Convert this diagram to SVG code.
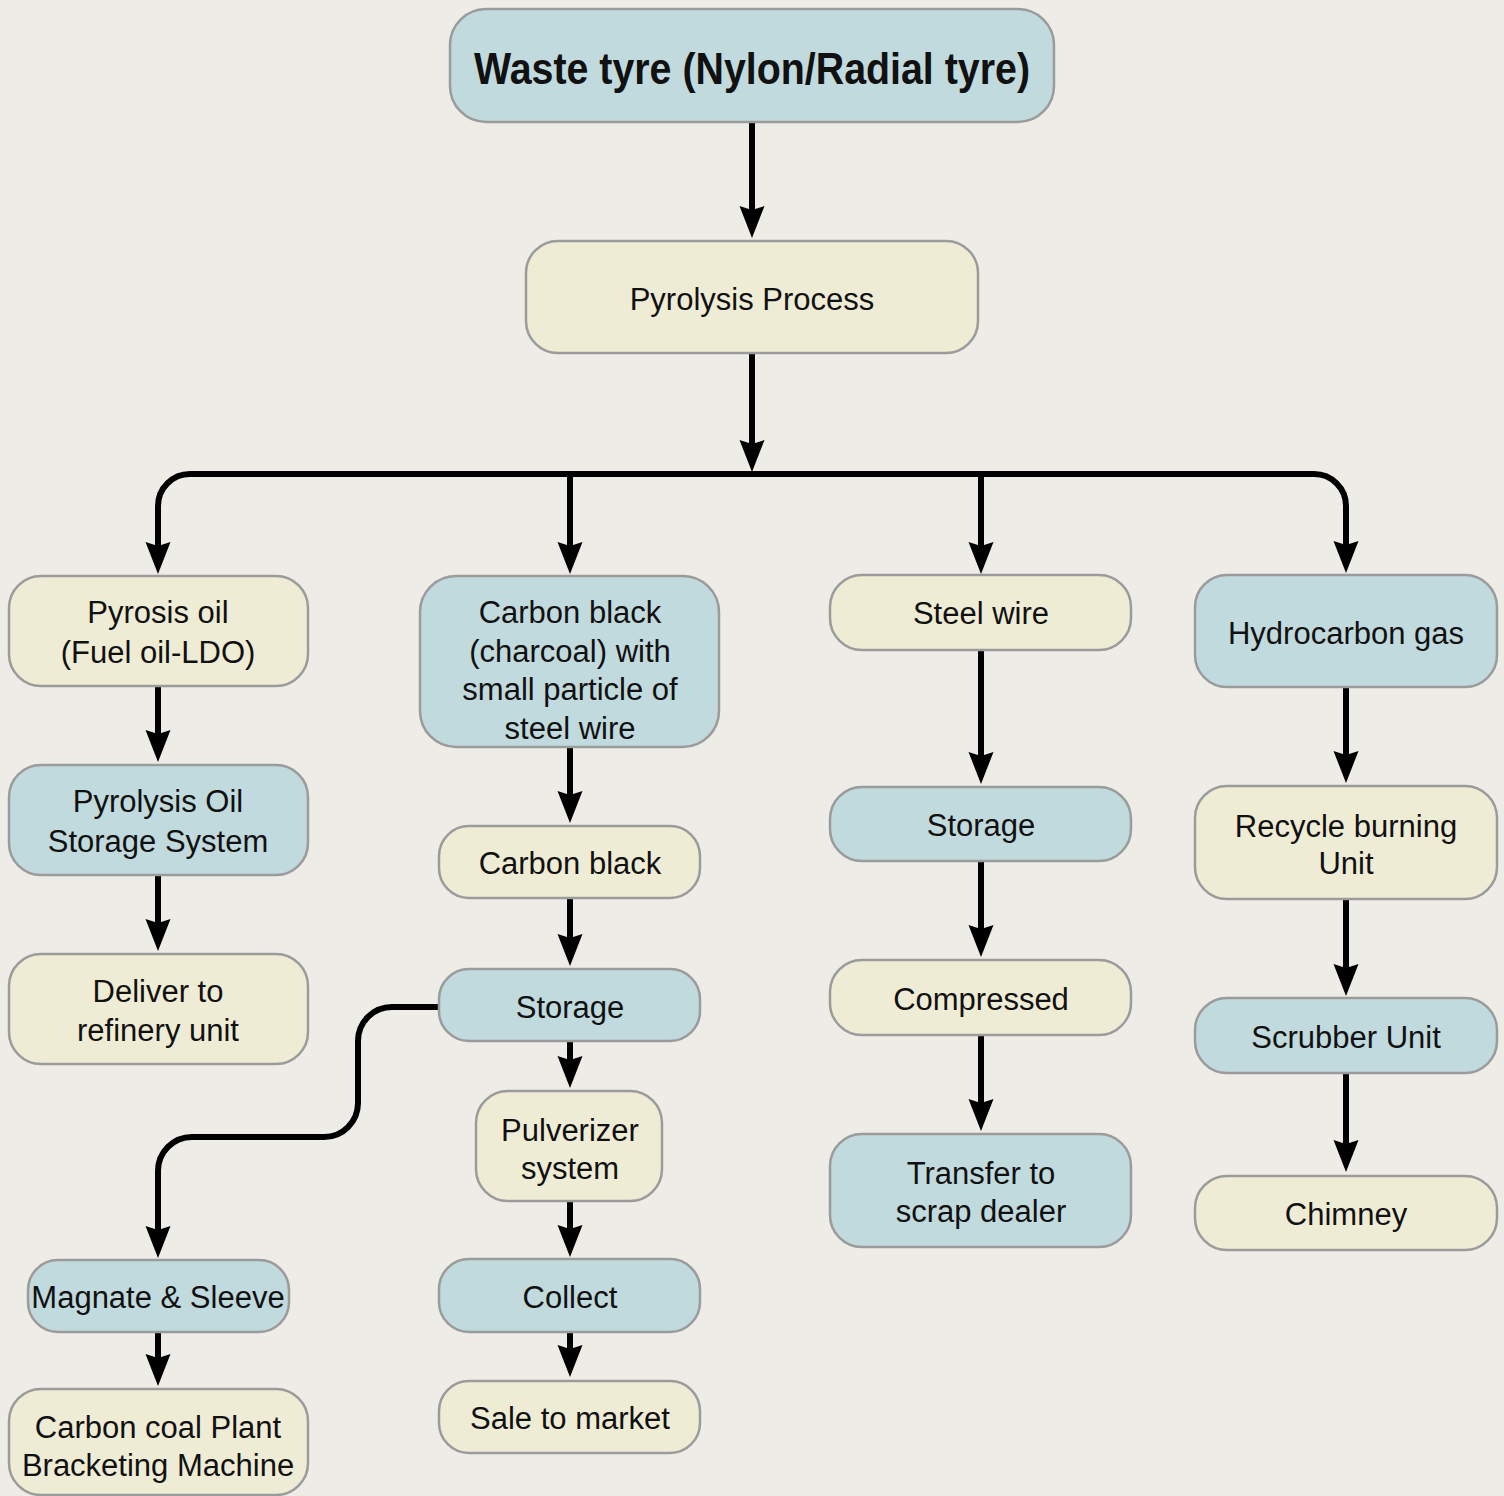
<svg xmlns="http://www.w3.org/2000/svg" width="1504" height="1496" viewBox="0 0 1504 1496">
<style>
.bg{fill:#eeece7}
.b{fill:#c1dadd;stroke:#9b9b9b;stroke-width:2.5}
.c{fill:#efecd6;stroke:#9b9b9b;stroke-width:2.5}
text{font-family:"Liberation Sans",Arial,sans-serif;font-size:31px;fill:#111;text-anchor:middle}
.t{font-size:44px;font-weight:bold}
.e{fill:none;stroke:#000;stroke-width:6;marker-end:url(#ah)}
</style>
<defs>
<marker id="ah" markerUnits="userSpaceOnUse" markerWidth="40" markerHeight="40" viewBox="-15 -15 40 30" refX="0" refY="0" orient="auto" overflow="visible">
<path d="M18,0 L-14,-12.5 L-10,0 L-14,12.5 Z" fill="#000"/>
</marker>
</defs>
<rect class="bg" x="0" y="0" width="1504" height="1496"/>
<g id="connectors">
<path class="e" d="M752,122 V220"/>
<path class="e" d="M752,353 V454"/>
<path class="e" d="M752,474 H190 A32,32 0 0 0 158,506 V556"/>
<path class="e" d="M752,474 H1314 A32,32 0 0 1 1346,506 V555"/>
<path class="e" d="M570,474 V556"/>
<path class="e" d="M981,474 V556"/>
<path class="e" d="M158,686 V744"/>
<path class="e" d="M158,875 V933"/>
<path class="e" d="M570,747 V805"/>
<path class="e" d="M570,898 V948"/>
<path class="e" d="M570,1041 V1070"/>
<path class="e" d="M570,1201 V1239"/>
<path class="e" d="M570,1332 V1359"/>
<path class="e" d="M439,1007 H392 A34,34 0 0 0 358,1041 V1103 A34,34 0 0 1 324,1137 H192 A34,34 0 0 0 158,1171 V1240"/>
<path class="e" d="M158,1332 V1368"/>
<path class="e" d="M981,650 V766"/>
<path class="e" d="M981,861 V939"/>
<path class="e" d="M981,1035 V1113"/>
<path class="e" d="M1346,687 V765"/>
<path class="e" d="M1346,899 V978"/>
<path class="e" d="M1346,1073 V1154"/>
</g>
<g id="waste-tyre"><rect class="b" x="450" y="9" width="604" height="113" rx="36"/><text class="t" x="752" y="84" textLength="556" lengthAdjust="spacingAndGlyphs">Waste tyre (Nylon/Radial tyre)</text></g>
<g id="pyrolysis-process"><rect class="c" x="526" y="241" width="452" height="112" rx="32"/><text x="752" y="310">Pyrolysis Process</text></g>
<g id="pyrosis-oil"><rect class="c" x="9" y="576" width="299" height="110" rx="32"/><text x="158" y="623">Pyrosis oil</text><text x="158" y="663">(Fuel oil-LDO)</text></g>
<g id="oil-storage"><rect class="b" x="9" y="765" width="299" height="110" rx="32"/><text x="158" y="812">Pyrolysis Oil</text><text x="158" y="852">Storage System</text></g>
<g id="deliver-refinery"><rect class="c" x="9" y="954" width="299" height="110" rx="32"/><text x="158" y="1002">Deliver to</text><text x="158" y="1041">refinery unit</text></g>
<g id="carbon-black-charcoal"><rect class="b" x="420" y="576" width="299" height="171" rx="36"/><text x="570" y="623">Carbon black</text><text x="570" y="662">(charcoal) with</text><text x="570" y="700">small particle of</text><text x="570" y="739">steel wire</text></g>
<g id="carbon-black"><rect class="c" x="439" y="826" width="261" height="72" rx="30"/><text x="570" y="874">Carbon black</text></g>
<g id="carbon-storage"><rect class="b" x="439" y="969" width="261" height="72" rx="30"/><text x="570" y="1018">Storage</text></g>
<g id="pulverizer"><rect class="c" x="476" y="1091" width="186" height="110" rx="32"/><text x="570" y="1141">Pulverizer</text><text x="570" y="1179">system</text></g>
<g id="collect"><rect class="b" x="439" y="1259" width="261" height="73" rx="30"/><text x="570" y="1308">Collect</text></g>
<g id="sale-market"><rect class="c" x="439" y="1381" width="261" height="72" rx="30"/><text x="570" y="1429">Sale to market</text></g>
<g id="magnate-sleeve"><rect class="b" x="28" y="1260" width="261" height="72" rx="30"/><text x="158" y="1308">Magnate &amp; Sleeve</text></g>
<g id="carbon-coal-plant"><rect class="c" x="9" y="1389" width="299" height="106" rx="32"/><text x="158" y="1438">Carbon coal Plant</text><text x="158" y="1476">Bracketing Machine</text></g>
<g id="steel-wire"><rect class="c" x="830" y="575" width="301" height="75" rx="32"/><text x="981" y="624">Steel wire</text></g>
<g id="steel-storage"><rect class="b" x="830" y="787" width="301" height="74" rx="32"/><text x="981" y="836">Storage</text></g>
<g id="compressed"><rect class="c" x="830" y="960" width="301" height="75" rx="32"/><text x="981" y="1010">Compressed</text></g>
<g id="scrap-dealer"><rect class="b" x="830" y="1134" width="301" height="113" rx="32"/><text x="981" y="1184">Transfer to</text><text x="981" y="1222">scrap dealer</text></g>
<g id="hydrocarbon-gas"><rect class="b" x="1195" y="575" width="302" height="112" rx="32"/><text x="1346" y="644">Hydrocarbon gas</text></g>
<g id="recycle-burning"><rect class="c" x="1195" y="786" width="302" height="113" rx="32"/><text x="1346" y="837">Recycle burning</text><text x="1346" y="874">Unit</text></g>
<g id="scrubber"><rect class="b" x="1195" y="998" width="302" height="75" rx="32"/><text x="1346" y="1048">Scrubber Unit</text></g>
<g id="chimney"><rect class="c" x="1195" y="1176" width="302" height="74" rx="32"/><text x="1346" y="1225">Chimney</text></g>
</svg>
